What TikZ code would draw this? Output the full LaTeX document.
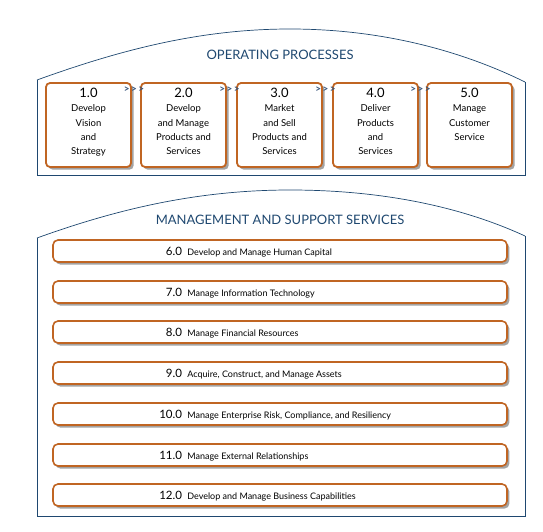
\documentclass[tikz,border=0pt]{standalone}
\usepackage{fontspec}
\setmainfont{Lato}
\usetikzlibrary{shadows,positioning}
\definecolor{navy}{RGB}{31,72,112}
\definecolor{rust}{RGB}{192,101,35}
\definecolor{chevblue}{RGB}{55,85,125}

\begin{document}
\begin{tikzpicture}[x=1pt,y=-1pt,
  panel/.style={draw=navy,line width=0.8pt},
  arch/.style={draw=navy,line width=0.7pt},
  title/.style={text=navy,font=\fontsize{13}{14}\selectfont},
  proc/.style={draw=rust,line width=1.8pt,rounded corners=4pt,fill=white,
    minimum width=85pt,minimum height=84pt,
    drop shadow={shadow xshift=2.6pt,shadow yshift=-2.6pt,fill=black!45,opacity=.8}},
  ptext/.style={anchor=north,align=center,inner sep=0pt,
    font=\fontsize{9.5}{14.4}\selectfont},
  svc/.style={draw=rust,line width=1.6pt,rounded corners=5pt,fill=white,
    minimum width=454pt,minimum height=22pt,
    drop shadow={shadow xshift=2.4pt,shadow yshift=-2.6pt,fill=black!45,opacity=.8}},
  snum/.style={anchor=base east,inner sep=0pt,font=\fontsize{11.5}{12}\selectfont},
  stext/.style={anchor=base west,inner sep=0pt,xshift=5pt,font=\fontsize{9}{11}\selectfont},
  chev/.style={text=chevblue,inner sep=0pt,font=\fontsize{10}{10}\selectfont\bfseries}]
  \useasboundingbox (0,0) rectangle (543,532);

  % operating processes panel
  \draw[panel] (37,80) -- (37,175) -- (525,175) -- (525,82);
  \draw[arch] (37,80) .. controls (120,50) and (200,29) .. (290,29)
    .. controls (380,29) and (460,50) .. (525,82);
  \node[title] (optitle) at (280,55) {OPERATING PROCESSES};

  \node[proc] (p1) at (88.5,125) {};
  \node[proc] (p2) at (183.5,125) {};
  \node[proc] (p3) at (279.5,125) {};
  \node[proc] (p4) at (375.5,125) {};
  \node[proc] (p5) at (469.5,125) {};
  \node[ptext,below=5.5pt of p1.north] (t1) {{\fontsize{13}{14.4}\selectfont 1.0}\\Develop\\Vision\\and\\Strategy};
  \node[ptext,below=5.5pt of p2.north] (t2) {{\fontsize{13}{14.4}\selectfont 2.0}\\Develop\\and Manage\\Products and\\Services};
  \node[ptext,below=5.5pt of p3.north] (t3) {{\fontsize{13}{14.4}\selectfont 3.0}\\Market\\and Sell\\Products and\\Services};
  \node[ptext,below=5.5pt of p4.north] (t4) {{\fontsize{13}{14.4}\selectfont 4.0}\\Deliver\\Products\\and\\Services};
  \node[ptext,below=5.5pt of p5.north] (t5) {{\fontsize{13}{14.4}\selectfont 5.0}\\Manage\\Customer\\Service};

  % chevrons between processes
  \path (p1.north east) -- (p2.north west) node[chev,midway,xshift=-2pt,yshift=-8pt] {>\kern1.5pt>\kern1.5pt>};
  \path (p2.north east) -- (p3.north west) node[chev,midway,xshift=-2pt,yshift=-8pt] {>\kern1.5pt>\kern1.5pt>};
  \path (p3.north east) -- (p4.north west) node[chev,midway,xshift=-2pt,yshift=-8pt] {>\kern1.5pt>\kern1.5pt>};
  \path (p4.north east) -- (p5.north west) node[chev,midway,xshift=-2pt,yshift=-8pt] {>\kern1.5pt>\kern1.5pt>};

  % management and support panel
  \draw[panel] (37,238) -- (37,516) -- (525,516) -- (525,236);
  \draw[arch] (37,238) .. controls (120,208) and (200,190) .. (290,190)
    .. controls (380,190) and (460,206) .. (525,236);
  \node[title] (mstitle) at (280,220) {MANAGEMENT AND SUPPORT SERVICES};

  \node[svc] (s6) at (280,251) {};
  \node[svc] (s7) at (280,292) {};
  \node[svc] (s8) at (280,332) {};
  \node[svc] (s9) at (280,373) {};
  \node[svc] (s10) at (280,414) {};
  \node[svc] (s11) at (280,455) {};
  \node[svc] (s12) at (280,495) {};

  \node[snum] (n6) at ([xshift=130pt,yshift=-4pt]s6.west) {6.0};
  \node[stext] at (n6.base east) {Develop and Manage Human Capital};
  \node[snum] (n7) at ([xshift=130pt,yshift=-4pt]s7.west) {7.0};
  \node[stext] at (n7.base east) {Manage Information Technology};
  \node[snum] (n8) at ([xshift=130pt,yshift=-4pt]s8.west) {8.0};
  \node[stext] at (n8.base east) {Manage Financial Resources};
  \node[snum] (n9) at ([xshift=130pt,yshift=-4pt]s9.west) {9.0};
  \node[stext] at (n9.base east) {Acquire, Construct, and Manage Assets};
  \node[snum] (n10) at ([xshift=130pt,yshift=-4pt]s10.west) {10.0};
  \node[stext] at (n10.base east) {Manage Enterprise Risk, Compliance, and Resiliency};
  \node[snum] (n11) at ([xshift=130pt,yshift=-4pt]s11.west) {11.0};
  \node[stext] at (n11.base east) {Manage External Relationships};
  \node[snum] (n12) at ([xshift=130pt,yshift=-4pt]s12.west) {12.0};
  \node[stext] at (n12.base east) {Develop and Manage Business Capabilities};
\end{tikzpicture}
\end{document}
